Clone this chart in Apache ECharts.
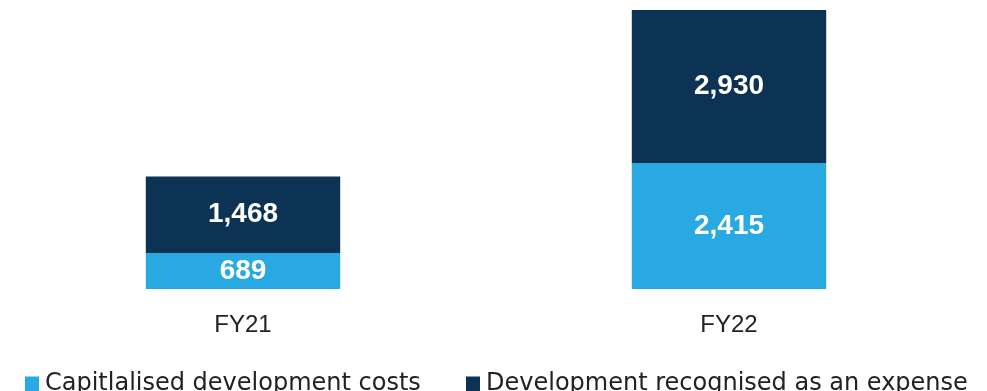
<!DOCTYPE html>
<html>
<head>
<meta charset="utf-8">
<script src="https://cdn.jsdelivr.net/npm/echarts@6/dist/echarts.min.js"></script>
<style>
  html, body { margin: 0; padding: 0; background: #ffffff; }
  #chart { width: 987px; height: 391px; }
</style>
</head>
<body>
<div id="chart"></div>
<script>
// Development spend by financial year (stacked)
const categories = ['FY21', 'FY22'];
const capitalisedLabel = 'Capitlalised development costs';
const expensedLabel = 'Development recognised as an expense';
const capitalised = [689, 2415];
const expensed = [1468, 2930];

const LIGHT = '#29A9E1';
const DARK = '#0D3354';
const TEXT = '#222222';
const FONT = '"Liberation Sans", "Open Sans", Arial, sans-serif';
const LEGEND_FONT = '"DejaVu Sans", "Open Sans", sans-serif';

const totals = categories.map((_, i) => capitalised[i] + expensed[i]);

const chart = echarts.init(document.getElementById('chart'), null, { renderer: 'canvas' });

const valueLabel = {
  show: true,
  position: 'inside',
  color: '#ffffff',
  fontFamily: FONT,
  fontWeight: 'bold',
  fontSize: 28,
  formatter: p => p.value.toLocaleString('en-US')
};

const legendBase = {
  top: 372,
  padding: 0,
  itemWidth: 14,
  itemHeight: 15,
  itemGap: 0,
  icon: 'rect',
  textStyle: { color: TEXT, fontFamily: LEGEND_FONT, fontSize: 24, padding: [0, 0, 0, 1] }
};

chart.setOption({
  animation: false,
  backgroundColor: '#ffffff',
  grid: { left: -2, right: 15, top: 10, bottom: 102, containLabel: false },
  legend: [
    Object.assign({}, legendBase, { data: [capitalisedLabel], left: 25 }),
    Object.assign({}, legendBase, { data: [expensedLabel], left: 466 })
  ],
  xAxis: {
    type: 'category',
    data: categories,
    axisLine: { show: false },
    axisTick: { show: false },
    axisLabel: { color: TEXT, fontFamily: FONT, fontSize: 24, margin: 24 }
  },
  yAxis: {
    type: 'value',
    min: 0,
    max: Math.max(...totals),
    show: false,
    splitLine: { show: false }
  },
  series: [
    {
      name: capitalisedLabel,
      type: 'bar',
      stack: 'dev',
      data: capitalised,
      barWidth: '40%',
      itemStyle: { color: LIGHT },
      label: valueLabel
    },
    {
      name: expensedLabel,
      type: 'bar',
      stack: 'dev',
      data: expensed,
      barWidth: '40%',
      itemStyle: { color: DARK },
      label: valueLabel
    }
  ]
});
</script>
</body>
</html>
